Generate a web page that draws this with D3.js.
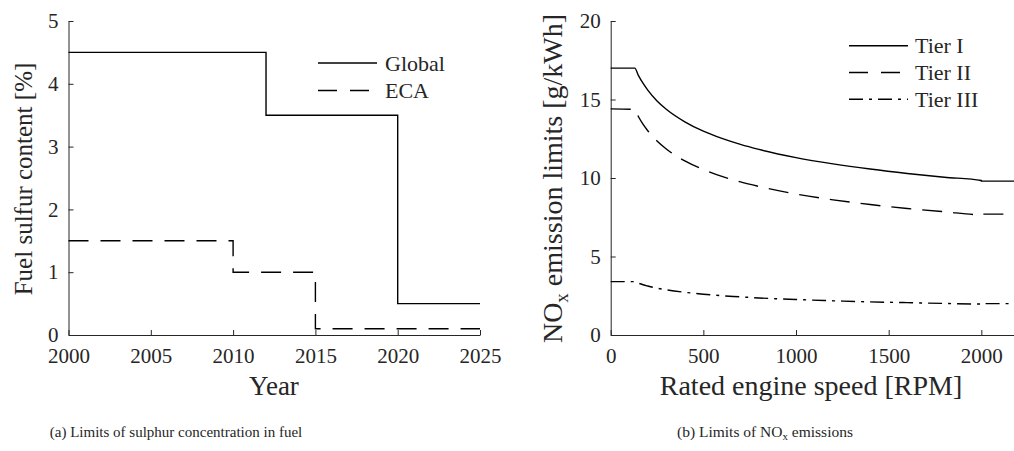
<!DOCTYPE html>
<html>
<head>
<meta charset="utf-8">
<script src="https://cdn.jsdelivr.net/npm/d3@7"></script>
<style>
  body { margin: 0; background: #fff; }
  text { font-family: "Liberation Serif", "Times New Roman", serif; fill: #262626; }
</style>
</head>
<body>
<div id="chart"></div>
<script>
// (a) sulphur limits, step functions
var years = [2000, 2010, 2012, 2015, 2020, 2025]
var globalSulfur = [4.5, 4.5, 3.5, 3.5, 0.5, 0.5]
var ecaSulfur = [1.5, 1.0, 1.0, 0.1, 0.1, 0.1]
var yearTicks = [2000, 2005, 2010, 2015, 2020, 2025]
var sulfurTicks = [0, 1, 2, 3, 4, 5]

// (b) NOx limits vs rated engine speed
var rpm = [0, 130, 150, 175, 200, 250, 300, 400, 500, 600, 700, 800, 1000, 1200, 1400, 1600, 1800, 2000, 2000, 2200]
var tier1 = [17.0, 17.0, 16.52, 16.02, 15.60, 14.91, 14.38, 13.58, 12.98, 12.52, 12.14, 11.82, 11.30, 10.90, 10.57, 10.29, 10.05, 9.84, 9.8, 9.8]
var tier2 = [14.4, 14.37, 13.90, 13.41, 13.01, 12.36, 11.85, 11.09, 10.54, 10.10, 9.75, 9.46, 8.98, 8.61, 8.31, 8.06, 7.85, 7.66, 7.7, 7.7]
var tier3 = [3.4, 3.40, 3.30, 3.20, 3.12, 2.98, 2.88, 2.72, 2.60, 2.50, 2.43, 2.36, 2.26, 2.18, 2.11, 2.06, 2.01, 1.97, 2.0, 2.0]
var rpmTicks = [0, 500, 1000, 1500, 2000]
var noxTicks = [0, 5, 10, 15, 20]

var width = 1014, height = 451
var svg = d3.select('#chart').append('svg').attr('width', width).attr('height', height)

var axisColor = '#262626'

function styleAxis(g) {
  g.attr('font-family', null).attr('font-size', null)
  g.select('.domain').attr('stroke', axisColor).attr('stroke-width', 1)
  g.selectAll('.tick line').attr('stroke', axisColor)
  g.selectAll('.tick text').attr('font-size', 21).attr('fill', axisColor)
}

// ---------- panel (a) ----------
var xA = d3.scaleLinear().domain([2000, 2025]).range([68.5, 480])
var yA = d3.scaleLinear().domain([0, 5]).range([335, 21])

var gA = svg.append('g')
gA.append('g').attr('transform', 'translate(0,335)')
  .call(d3.axisBottom(xA).tickValues(yearTicks).tickFormat(d3.format('d')).tickSizeInner(-5).tickSizeOuter(0).tickPadding(13))
  .call(styleAxis)
gA.append('g').attr('transform', 'translate(68.5,0)')
  .call(d3.axisLeft(yA).tickValues(sulfurTicks).tickFormat(d3.format('d')).tickSizeInner(-5).tickSizeOuter(0).tickPadding(10))
  .call(styleAxis)

var lineA = d3.line().curve(d3.curveStepAfter)
  .x(function(d) {return xA(d[0])}).y(function(d) {return yA(d[1])})

gA.append('path').datum(d3.zip(years, globalSulfur)).attr('d', lineA)
  .attr('fill', 'none').attr('stroke', '#000').attr('stroke-width', 1.4)
gA.append('path').datum(d3.zip(years, ecaSulfur)).attr('d', lineA)
  .attr('fill', 'none').attr('stroke', '#000').attr('stroke-width', 1.4).attr('stroke-dasharray', '20,12')

gA.append('text').attr('x', 274).attr('y', 395).attr('text-anchor', 'middle').attr('font-size', 27).text('Year')
gA.append('text').attr('transform', 'translate(32,179) rotate(-90)').attr('text-anchor', 'middle').attr('font-size', 25)
  .text('Fuel sulfur content [%]')

// legend (a)
var legA = [{name: 'Global', dash: null}, {name: 'ECA', dash: '19,13'}]
legA.forEach(function(d, i) {
  var y = 63 + i * 27.5
  gA.append('line').attr('x1', 318).attr('x2', 377).attr('y1', y).attr('y2', y)
    .attr('stroke', '#000').attr('stroke-width', 1.4).attr('stroke-dasharray', d.dash)
  gA.append('text').attr('x', 385).attr('y', y).attr('dy', '0.35em').attr('font-size', 22).text(d.name)
})

// ---------- panel (b) ----------
var xB = d3.scaleLinear().domain([0, 2200]).range([610.7, 1018.4])
var yB = d3.scaleLinear().domain([0, 20]).range([335, 21])

var gB = svg.append('g')
gB.append('g').attr('transform', 'translate(0,335)')
  .call(d3.axisBottom(xB).tickValues(rpmTicks).tickFormat(d3.format('d')).tickSizeInner(-5).tickSizeOuter(0).tickPadding(13))
  .call(styleAxis)
gB.append('g').attr('transform', 'translate(610.7,0)')
  .call(d3.axisLeft(yB).tickValues(noxTicks).tickFormat(d3.format('d')).tickSizeInner(-5).tickSizeOuter(0).tickPadding(10))
  .call(styleAxis)

var lineB = d3.line().curve(d3.curveMonotoneX)
  .x(function(d) {return xB(d[0])}).y(function(d) {return yB(d[1])})

var tiers = [
  {name: 'Tier I', values: tier1, dash: null, legDash: null},
  {name: 'Tier II', values: tier2, dash: '20,11', legDash: '19,13'},
  {name: 'Tier III', values: tier3, dash: '14,6,3,6', legDash: '14,6,3,6'}
]

tiers.forEach(function(t) {
  gB.append('path').datum(d3.zip(rpm, t.values)).attr('d', lineB)
    .attr('fill', 'none').attr('stroke', '#000').attr('stroke-width', 1.4).attr('stroke-dasharray', t.dash)
})

gB.append('text').attr('x', 811).attr('y', 395).attr('text-anchor', 'middle').attr('font-size', 28).text('Rated engine speed [RPM]')
var yt = gB.append('text').attr('transform', 'translate(562,178.5) rotate(-90)').attr('text-anchor', 'middle').attr('font-size', 28)
yt.append('tspan').text('NO')
yt.append('tspan').attr('font-size', 19).attr('dy', 6).text('x')
yt.append('tspan').attr('dy', -6).text(' emission limits [g/kWh]')

// legend (b)
tiers.forEach(function(t, i) {
  var y = 45.7 + i * 26.8
  gB.append('line').attr('x1', 849).attr('x2', 908).attr('y1', y).attr('y2', y)
    .attr('stroke', '#000').attr('stroke-width', 1.4).attr('stroke-dasharray', t.legDash)
  gB.append('text').attr('x', 915).attr('y', y).attr('dy', '0.35em').attr('font-size', 22).text(t.name)
})

// ---------- captions ----------
svg.append('text').attr('x', 176).attr('y', 437).attr('text-anchor', 'middle').attr('font-size', 15)
  .text('(a) Limits of sulphur concentration in fuel')
var cb = svg.append('text').attr('x', 765).attr('y', 437).attr('text-anchor', 'middle').attr('font-size', 15.5)
cb.append('tspan').text('(b) Limits of NO')
cb.append('tspan').attr('font-size', 11).attr('dy', 3).text('x')
cb.append('tspan').attr('dy', -3).text(' emissions')
</script>
</body>
</html>
